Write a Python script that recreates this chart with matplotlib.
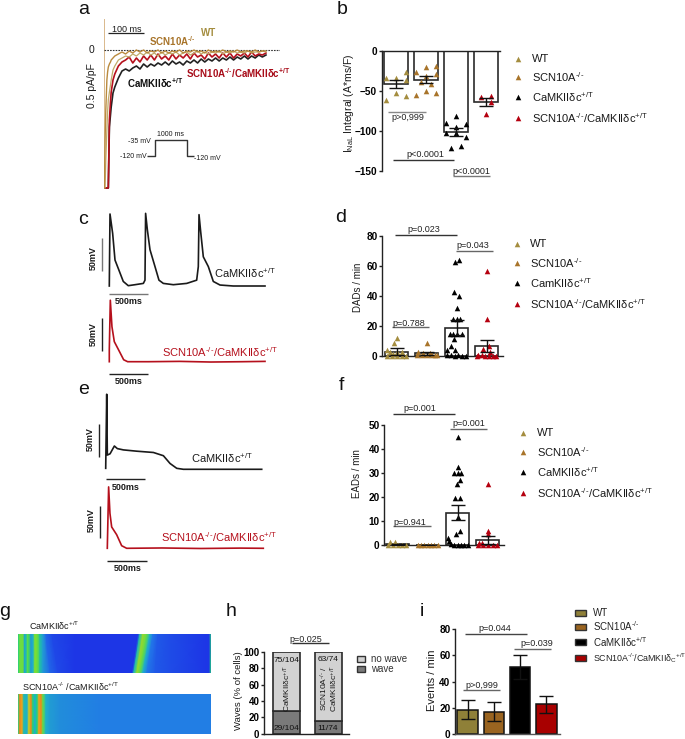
import numpy as np
import matplotlib
matplotlib.use("Agg")
import matplotlib.pyplot as plt
from matplotlib.colors import LinearSegmentedColormap
from matplotlib.patches import Rectangle

plt.rcParams.update({
    'font.family': ['Liberation Sans', 'DejaVu Sans'],
    'mathtext.fontset': 'custom', 'mathtext.rm': 'Liberation Sans',
    'mathtext.it': 'Liberation Sans:italic', 'mathtext.bf': 'Liberation Sans:bold',
    'mathtext.default': 'regular', 'axes.linewidth': 1.0,
})

W, H = 685, 739
OLIVE, BROWN, BLACK, RED = '#a48d3f', '#a8742a', '#000000', '#b5000f'
COLS = [OLIVE, BROWN, BLACK, RED]
KO = '$^{\u2010/\u2010}$'
CAM = 'CaMKIIδc$^{+/T}$'
CAM2 = 'CamKIIδc$^{+/T}$'
SCN = 'SCN10A' + KO
DBL = 'SCN10A' + KO + '/CaMKIIδc$^{+/T}$'

# ---------- panel a: late Na current traces (ms, pA/pF)
a_t = [1, 3, 5, 8, 10, 12, 15, 18, 20, 25, 30] + list(range(40, 460, 10))
a_wt = [-1.38, -1.38, -1.1, -.8, -.62, -.5, -.42, -.35, -.3, -.2, -.16,
        -.1, -.08, -.06, -.07, -.04, -.06, -.03, -.05, -.02, -.05, -.03, -.06, -.02, -.05, -.03,
        -.04, -.02, -.05, -.03, -.02, -.05, -.03, -.01, -.04, -.02, -.04, -.02, -.03, -.01, -.04,
        -.02, -.03, -.01, -.03, -.02, -.03, -.01, -.03, -.02, -.02, -.01, -.02]
a_scn = [-1.38, -.9, -.6, -.3, -.22, -.17, -.14, -.12, -.1, -.08, -.06,
         -.04, -.02, -.04, -.01, -.03, 0, -.02, 0, -.03, -.01, -.02, 0, -.03, -.01, -.03,
         -.01, -.02, 0, -.03, -.01, -.02, 0, -.02, -.01, -.03, 0, -.02, -.01, -.02, 0,
         -.02, -.01, -.02, 0, -.02, -.01, -.01, -.02, 0, -.02, -.01, -.01]
a_cam = [-1.38, -1.38, -1.38, -1.38, -1.38, -1.38, -.77, -.65, -.57, -.43, -.37,
         -.28, -.21, -.19, -.21, -.18, -.16, -.19, -.14, -.17, -.14, -.16, -.13, -.15, -.12, -.15,
         -.11, -.14, -.12, -.15, -.11, -.13, -.1, -.13, -.09, -.12, -.09, -.11, -.08, -.11, -.08,
         -.1, -.07, -.1, -.07, -.09, -.06, -.09, -.06, -.08, -.05, -.07, -.05]
a_dbl = [-1.38, -1.38, -1.38, -1.38, -1.38, -1.38, -.7, -.52, -.42, -.3, -.24,
         -.16, -.12, -.1, -.07, -.13, -.08, -.12, -.06, -.1, -.05, -.1, -.04, -.09, -.06, -.1,
         -.04, -.09, -.05, -.08, -.04, -.09, -.03, -.07, -.05, -.09, -.03, -.07, -.04, -.08, -.03,
         -.07, -.03, -.08, -.04, -.06, -.03, -.07, -.02, -.06, -.04, -.05, -.03]
a_spike_t = [0, 0]
a_spike_i = [.3, -1.38]

# ---------- panels c, e: action potentials (ms, mV)
c_cam_t = [0, 9, 43, 73, 115, 179, 243, 329, 436, 457, 465, 487, 521, 585, 636, 692, 820, 991,
           1119, 1140, 1149, 1170, 1204, 1268, 1332, 1418, 1588, 1994]
c_cam_v = [-80, 31, 1, -40, -53, -73, -79.5, -78, -76, -71, 32, 7, -24, -50, -71, -76, -78, -76,
           -71, -50, 30, 4, -35, -50, -73, -78.5, -80, -80]
c_dbl_t = [0, 0, 13, 34, 64, 120, 184, 235, 500, 900, 1300, 1700, 1994]
c_dbl_v = [-80, -62, 15, -26, -49, -62, -77, -80, -80, -79.5, -80.5, -80, -79.5]
e_cam_t = [0, 13, 21, 56, 111, 149, 226, 397, 611, 739, 824, 910, 995, 1998]
e_cam_v = [-78.5, 36, -58, -56, -44, -48, -50, -52, -54, -59, -71, -78.5, -80, -80]
e_dbl_t = [0, 17, 34, 56, 120, 184, 248, 700, 1200, 1700, 1998]
e_dbl_v = [-80, 15, -26, -47, -59, -76, -80, -79.5, -80.3, -79.7, -80]

# ---------- panel b
b_means = [-42, -36, -101, -64]
b_errs = [5, 4, 5, 5]
b_y = [[-34.5, -34, -27, -36, -62, -53, -57],
       [-26, -20, -19, -29, -31, -39, -41, -55, -50, -53],
       [-90, -82, -91, -95, -103, -102, -107, -121, -119],
       [-58, -56, -64, -79]]
b_dx = [[-.32, 0, .32, .32, -.32, 0, .32],
        [-.32, 0, .32, .32, 0, -.17, .17, -.32, 0, .32],
        [-.32, 0, .32, 0, -.32, 0, .32, -.17, .16],
        [-.17, .17, .17, 0]]

# ---------- panel d
d_means = [3, 2, 19, 7]
d_errs = [2.2, 1, 5, 4]
d_y = [[12, 8.5, 4, 3, 3, 2.5, 0, 0, 0, 0, 0, 1.5],
       [8.5, 2.5, 2, 2, 1, .5, .5, .5, .5, .5],
       [63, 64, 43, 40, 32, 25, 25, 25, 15, 15, 15, 15, 11.5, 7, 4, 4, 1, .5, 0, .5, 0, 0],
       [57, 25, 7, 5, 3, 1, 1, 0, 0, 0, 0, 0]]
d_dx = [[0, -.08, -.33, -.22, 0, .17, -.33, -.17, 0, .17, .31, -.11],
        [0, -.28, -.11, .11, .28, -.33, -.17, 0, .17, .33],
        [-.07, .06, -.08, .06, 0, -.14, 0, .12, -.23, -.12, .01, .18, -.08, -.2, -.32, -.07, -.32, -.2, -.07, .04, .19, .32],
        [0, 0, .06, -.12, .1, -.28, -.16, -.05, .08, .2, .3, -.33]]

# ---------- panel f
f_means = [.3, .1, 13.5, 2.2]
f_errs = [.2, .05, 3.2, 1.7]
f_y = [[1.2, 1.2, 0, 0, 0, 0, 0],
       [0, 0, 0, 0, 0, 0, 0],
       [45, 32.5, 30, 30, 30, 27, 25.5, 19.5, 19.5, 11.5, 6, 4.5, 3, 1.5, .5, 0, 0, 0, 0, 0],
       [25.5, 6, 4.5, 1, 1, 0, 0, 0, 0, 0]]
f_dx = [[-.25, -.09, -.31, -.17, 0, .13, .28],
        [-.33, -.22, -.11, 0, .11, .22, .33],
        [0, 0, -.11, 0, .11, .06, -.03, -.08, .06, 0, .06, -.05, -.33, -.28, -.22, -.11, 0, .11, .22, .33],
        [0, 0, 0, -.28, -.19, -.33, -.17, 0, .17, .31]]

# ---------- panel h
h_wave = [28, 15]
h_nowave = [72, 85]

# ---------- panel i
i_means = [18.5, 17, 51, 22.5]
i_errs = [7.5, 7, 9, 6.5]

# ---------- panel g: fluorescence levels along the line scan
g_top_pos_upper = [18, 20, 23, 24.5, 26, 27.5, 29, 31, 33, 35, 38, 40, 43, 50, 58, 75, 132, 134, 137, 140, 143, 147, 155, 170, 206, 209, 211]
g_top_pos_lower = [18, 20, 23, 24.5, 26, 27.5, 29, 31, 33, 35, 38, 40, 43, 46, 52, 75, 138, 140, 143, 147, 150, 153, 158, 170, 206, 209, 211]
g_top_lvl = [.5, .62, .62, .32, .4, .6, .55, .3, .35, .65, .6, .42, .3, .16, .09, .05, .05, .4, .68, .6, .35, .2, .13, .1, .05, .05, .5]
g_bot_pos = [18, 20, 22, 24, 27, 29, 31, 33, 35, 37, 39, 41, 43, 46, 50, 60, 100, 211]
g_bot_lvl = [.5, .9, .85, .4, .35, .75, .9, .5, .35, .5, .85, .9, .6, .35, .3, .26, .22, .22]

fig = plt.figure(figsize=(W / 100, H / 100), dpi=100)
fig.patch.set_facecolor('white')


def axpx(l, t, r, b, **kw):
    return fig.add_axes([l / W, 1 - b / H, (r - l) / W, (b - t) / H], **kw)


ov = axpx(0, 0, W, H)
ov.set_xlim(0, W)
ov.set_ylim(H, 0)
ov.axis('off')
ov.set_zorder(10)
ov.patch.set_alpha(0)


def T(x, y, s, size=8, color='#1a1a1a', ha='center', weight='normal', rot=0):
    ov.text(x, y, s, fontsize=size, color=color, ha=ha, va='center', fontweight=weight, rotation=rot)


def L(xs, ys, color='#222222', lw=1.0, **kw):
    ov.plot(xs, ys, color=color, lw=lw, solid_capstyle='butt', **kw)


def bracket(x0, x1, y, tx, ty, s, color='#333333'):
    L([x0, x1], [y, y], color=color)
    T(tx, ty, s, size=6.5, color='#222222')


def legend(xm, xt, ys, labels, size=8):
    for y, lab, c in zip(ys, labels, COLS):
        ov.scatter([xm], [y], marker='^', s=16, color=c, linewidths=0)
        T(xt, y, lab, size=size, ha='left')


def style(ax, ticks, lim, labelsize=7.2):
    for s in ('top', 'right'):
        ax.spines[s].set_visible(False)
    ax.spines['left'].set_color('#222222')
    ax.spines['bottom'].set_color('#222222')
    ax.spines['left'].set_bounds(*lim)
    ax.set_xticks([])
    ax.set_yticks(ticks)
    ax.tick_params(axis='y', length=2.5, width=1.0, pad=.8, labelsize=labelsize, color='#222222')
    for lb in ax.get_yticklabels():
        lb.set_fontweight('bold')
    ax.patch.set_alpha(0)


def scatter_bars(rect, c0, ylim, ticks, means, errs, ys, dxs):
    l, t, r, b = rect
    ax = axpx(l, t, r, b)
    ax.set_xlim((l - c0) / 30, (r - c0) / 30)
    ax.set_ylim(*ylim)
    style(ax, ticks, ylim)
    ax.bar(range(4), means, width=.78, facecolor='none', edgecolor='#2a2a2a', lw=1.2, zorder=2)
    for i in range(4):
        ax.scatter(np.array(dxs[i]) + i, ys[i], marker='^', s=16, color=COLS[i], linewidths=0,
                   zorder=3, clip_on=False)
    ax.errorbar(range(4), means, yerr=errs, fmt='none', ecolor='#111111', elinewidth=1.0,
                capsize=5, capthick=1.0, zorder=4)
    return ax


# ---------- a
axa = axpx(104, 18, 280, 190)
axa.set_xlim(0, 489)
axa.set_ylim(-1.4, .32)
axa.axis('off')
axa.plot(a_spike_t, a_spike_i, color='#d9b98c', lw=1.4)
axa.plot([0, 489], [0, 0], color='#333333', lw=.8, ls=(0, (1.5, 1)))
axa.plot(a_t, a_cam, color='#222222', lw=1.2)
axa.plot(a_t, a_dbl, color='#b5101c', lw=1.2)
axa.plot(a_t, a_wt, color='#c0ab6a', lw=.9)
axa.plot(a_t, a_scn, color='#b98a3e', lw=1.0)
L([108, 144], [33.3, 33.3], lw=.9)
T(127, 29, '100 ms', size=6.5)
T(92, 50, '0', size=7.5)
T(91.7, 86, '0.5 pA/pF', size=7.5, rot=90)
T(209, 32.7, 'WT', size=7, color=OLIVE, weight='bold')
T(172.7, 40.7, SCN, size=7, color=BROWN, weight='bold')
T(238.7, 73.3, DBL, size=7, color='#a80d1a', weight='bold')
T(155, 83.3, CAM, size=7, color='#111111', weight='bold')
L([147, 155, 155, 187, 187, 194], [156, 156, 140, 140, 156, 156], color='#333333', lw=1.0)
T(139, 141.3, '-35 mV', size=5)
T(133.7, 157, '-120 mV', size=5)
T(171, 135, '1000 ms', size=5)
T(207.3, 158.3, '-120 mV', size=5)

# ---------- b
axb = scatter_bars((381.7, 50.7, 500, 171), 396, (-150, 0), [0, -50, -100, -150],
                   b_means, b_errs, b_y, b_dx)
axb.spines['bottom'].set_visible(False)
axb.spines['top'].set_visible(True)
axb.spines['top'].set_color('#222222')
T(349.5, 103, 'I$_{NaL}$ Integral (A*ms/F)', size=7.5, rot=90)
bracket(388, 426, 111.7, 408, 117.7, 'p>0,999', color='#888888')
bracket(393, 454, 160, 425, 154.7, 'p<0.0001')
bracket(452.7, 490, 175.7, 471.7, 171.7, 'p<0.0001', color='#777777')
legend(518.3, 531.7, [59, 77.3, 96.7, 118.3], ['WT', SCN, CAM, DBL])

# ---------- c
for rect, ylim, t, v, c in [((109.3, 212.7, 265, 286), (-80, 33), c_cam_t, c_cam_v, '#1a1a1a'),
                            ((109.3, 300, 265, 361.7), (-80, 15.3), c_dbl_t, c_dbl_v, '#b5101c'),
                            ((105.7, 394, 261.7, 469.3), (-80, 36.4), e_cam_t, e_cam_v, '#1a1a1a'),
                            ((107.3, 486.7, 263.3, 548.3), (-80, 15.3), e_dbl_t, e_dbl_v, '#b5101c')]:
    ax = axpx(*rect)
    ax.set_xlim(0, max(t))
    ax.set_ylim(*ylim)
    ax.axis('off')
    ax.plot(t, v, color=c, lw=1.2, clip_on=False)
L([102, 102], [238.3, 270.7], color='#777777')
L([109.3, 148.3], [294, 294], color='#777777')
T(129, 301.7, '500ms', size=6.5, weight='bold')
T(93, 258, '50mV', size=6.5, weight='bold', rot=90)
T(245, 272.7, CAM, size=8)
L([102, 102], [318.3, 350.7])
L([109.3, 148.3], [374, 374])
T(129, 381.5, '500ms', size=6.5, weight='bold')
T(93, 333.7, '50mV', size=6.5, weight='bold', rot=90)
T(220.5, 352, DBL, size=8, color='#b5101c')

# ---------- d
axd = scatter_bars((382.3, 236, 503, 356), 396.7, (0, 80), [0, 20, 40, 60, 80],
                   d_means, d_errs, d_y, d_dx)
T(358, 287, 'DADs / min', size=7, rot=90)
bracket(395, 457.3, 235, 424, 229.3, 'p=0.023')
bracket(456, 493.3, 251, 473, 245, 'p=0.043', color='#666666')
bracket(391.7, 429.3, 326.7, 408.7, 323.3, 'p=0.788', color='#666666')
legend(516.7, 530.3, [244.3, 263.3, 282.7, 304.3], ['WT', SCN, CAM2, DBL])

# ---------- e
L([98.7, 98.7], [424, 456.7])
L([105.7, 144.7], [479.3, 479.3])
T(125.7, 487.7, '500ms', size=6.5, weight='bold')
T(90, 439, '50mV', size=6.5, weight='bold', rot=90)
T(222, 458, CAM, size=8)
L([100, 100], [505.7, 537.7])
L([107.3, 146.7], [561, 561])
T(127.3, 568.7, '500ms', size=6.5, weight='bold')
T(91.7, 520.5, '50mV', size=6.5, weight='bold', rot=90)
T(219, 537, DBL, size=8, color='#b5101c')

# ---------- f
axf = scatter_bars((384.3, 425, 504, 545), 397.7, (0, 50), [0, 10, 20, 30, 40, 50],
                   f_means, f_errs, f_y, f_dx)
T(356.7, 474, 'EADs / min', size=7, rot=90)
bracket(392.7, 454.7, 414, 420, 408.3, 'p=0.001')
bracket(449.7, 487, 429.3, 468.3, 423.7, 'p=0.001', color='#666666')
bracket(393.3, 430.7, 525.7, 409.7, 522.7, 'p=0.941', color='#666666')
legend(522.7, 536.7, [433.3, 452.3, 471.7, 493.3], ['WT', SCN, CAM, DBL])

# ---------- g
cmap = LinearSegmentedColormap.from_list('scan', [(0, '#1c22e6'), (.2, '#2277e8'), (.35, '#20b0c8'),
                                                  (.5, '#20d080'), (.65, '#80e030'), (.8, '#e8c020'),
                                                  (1, '#e85818')])
axg1 = axpx(18.3, 634, 210.7, 673)
axg1.pcolormesh(np.array([g_top_pos_upper, g_top_pos_lower]), np.array([[0] * len(g_top_lvl), [1] * len(g_top_lvl)]),
                np.array([g_top_lvl, g_top_lvl]), cmap=cmap, vmin=0, vmax=1, shading='gouraud')
axg1.set_xlim(18.3, 210.7)
axg1.set_ylim(0, 1)
axg1.axis('off')
axg2 = axpx(18.3, 694, 210.7, 733.7)
axg2.pcolormesh(g_bot_pos, [0, 1], np.array([g_bot_lvl, g_bot_lvl]), cmap=cmap, vmin=0, vmax=1, shading='gouraud')
axg2.set_xlim(18.3, 210.7)
axg2.set_ylim(0, 1)
axg2.axis('off')
T(29, 625.7, CAM, size=6.5, ha='left')
T(21.7, 687, 'SCN10A' + KO + ' /CaMKIIδc$^{+/T}$', size=6.5, ha='left')

# ---------- h
axh = axpx(264, 652, 349, 733.5)
axh.set_xlim((264 - 286.5) / 42, (349 - 286.5) / 42)
axh.set_ylim(0, 100)
style(axh, [0, 20, 40, 60, 80, 100], (0, 100), labelsize=7)
axh.bar([0, 1], h_wave, width=.64, color='#7a7a7a', edgecolor='#2a2a2a', lw=1.2)
axh.bar([0, 1], h_nowave, bottom=h_wave, width=.64, color='#d2d2d2', edgecolor='#2a2a2a', lw=1.2)
T(239, 691, 'Waves (% of cells)', size=6.8, rot=90)
bracket(291.7, 329.3, 642.7, 306, 639, 'p=0.025')
T(286.7, 660, '75/104', size=6, color='#111111')
T(327.7, 659.3, '63/74', size=6, color='#111111')
T(286.7, 728, '29/104', size=6, color='#111111')
T(327.7, 728, '11/74', size=6, color='#111111')
T(287.3, 688, CAM, size=6, rot=90)
T(324, 688, 'SCN10A' + KO + ' /', size=6, rot=90)
T(334, 688, CAM, size=6, rot=90)
for y, c, lab in [(659, '#d2d2d2', 'no wave'), (669, '#7a7a7a', 'wave')]:
    ov.add_patch(Rectangle((357.5, y - 3), 8, 6, facecolor=c, edgecolor='#333333', lw=1.0))
    T(371, y, lab, size=7, ha='left', color='#333333')

# ---------- i
axi = axpx(455, 629.3, 560, 733.7)
axi.set_xlim((455 - 467.5) / 26.3, (560 - 467.5) / 26.3)
axi.set_ylim(0, 80)
style(axi, [0, 20, 40, 60, 80], (0, 80))
axi.spines['bottom'].set_color('#555555')
axi.bar(range(4), i_means, width=.775, color=['#8f8038', '#9a6420', '#000000', '#a80000'],
        edgecolor='#111111', lw=1.1, zorder=2)
axi.errorbar(range(4), i_means, yerr=i_errs, fmt='none', ecolor='#111111', elinewidth=1.0,
             capsize=5, capthick=1.0, zorder=3)
T(432, 680, 'Events / min', size=8, rot=90)
bracket(465, 526.7, 633.7, 494.7, 628.3, 'p=0.044', color='#444444')
bracket(514.3, 551.3, 649.3, 536.7, 644, 'p=0.039', color='#666666')
bracket(463.3, 500.3, 690.3, 482.3, 685, 'p>0,999', color='#666666')
for y, c, lab, sz in zip([612.5, 626.5, 642, 658], ['#8f8038', '#9a6420', '#000000', '#a80000'],
                         ['WT', SCN, CAM, 'SCN10A' + KO + '/CaMKIIδ$_{C}$$^{+/T}$'], [7, 7, 7, 6.4]):
    ov.add_patch(Rectangle((575.5, y - 3), 11, 6, facecolor=c, edgecolor='#333333', lw=1.0))
    T(593, y, lab, size=sz, ha='left', color='#222222')

# ---------- panel letters
for x, y, s in [(83.7, 9.5, 'a'), (341.7, 9.5, 'b'), (83, 219, 'c'), (341, 217, 'd'), (84, 389, 'e'),
                (341, 385, 'f'), (5, 612, 'g'), (230.7, 611, 'h'), (422, 612, 'i')]:
    T(x, y, s, size=14, color='#111111')

fig.savefig('out.png', dpi=100)
